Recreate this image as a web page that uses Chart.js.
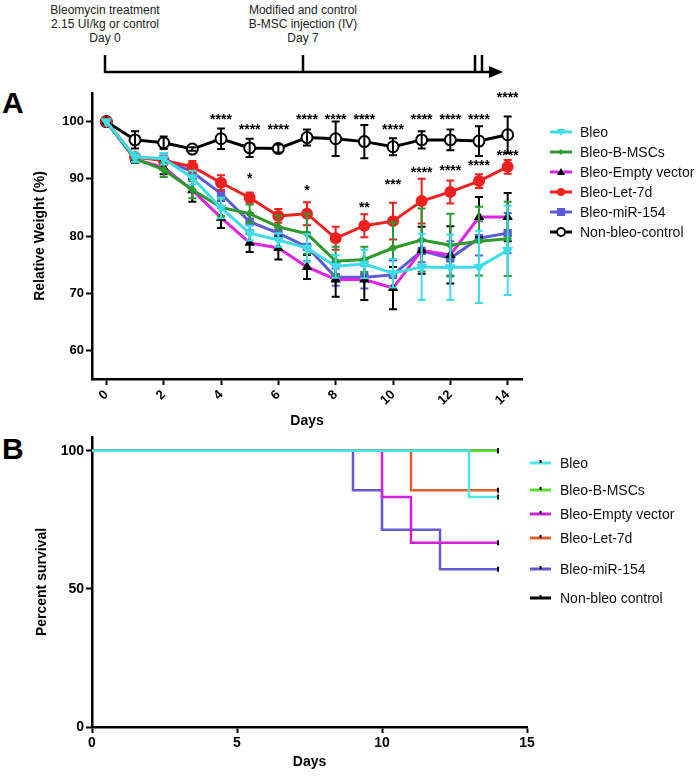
<!DOCTYPE html>
<html>
<head>
<meta charset="utf-8">
<script src="https://cdn.jsdelivr.net/npm/chart.js@4.4.1/dist/chart.umd.min.js"></script>
<style>
  body { margin: 0; background: #fff; font-family: "Liberation Sans", Arial, sans-serif; color: #000; }
  #wrap { position: relative; width: 700px; height: 776px; overflow: hidden; }
  canvas { position: absolute; left: 0; }
  .note { position: absolute; width: 200px; font-size: 12px; line-height: 14px; text-align: center; color: #222; }
  .panel { position: absolute; left: 2px; font-size: 30px; font-weight: bold; line-height: 30px; }
  .leg { position: absolute; font-size: 14px; line-height: 20px; white-space: nowrap; color: #111; }
  .leg svg { position: absolute; left: 0; top: 0; }
  .leg span { position: absolute; top: 0; }
</style>
</head>
<body>
<div id="wrap">
  <svg width="700" height="90" style="position:absolute;left:0;top:0">
    <g stroke="#000" stroke-width="2.5" fill="none">
      <line x1="105" y1="72" x2="492" y2="72"/>
      <line x1="105" y1="55" x2="105" y2="73"/>
      <line x1="303" y1="55" x2="303" y2="73"/>
      <line x1="475" y1="55" x2="475" y2="73"/>
      <line x1="482" y1="55" x2="482" y2="73"/>
    </g>
    <polygon points="489,66 503,72 489,78" fill="#000"/>
  </svg>
  <div class="note" style="left:5px;top:3px">Bleomycin treatment<br>2.15 UI/kg or control<br>Day 0</div>
  <div class="note" style="left:203px;top:3px">Modified and control<br>B-MSC injection (IV)<br>Day 7</div>
  <div class="panel" style="top:88px">A</div>
  <div class="panel" style="top:434px">B</div>
  <canvas id="chartA" width="700" height="440" style="top:0"></canvas>
  <canvas id="chartB" width="700" height="356" style="top:420px"></canvas>
  <div id="legendA"></div>
  <div id="legendB"></div>
</div>
<script>
// Panel A: relative weight (%) per day, mean and SEM
const days = [0, 1, 2, 3, 4, 5, 6, 7, 8, 9, 10, 11, 12, 13, 14];
const weightNames = ["Bleo", "Bleo-B-MSCs", "Bleo-Empty vector", "Bleo-Let-7d", "Bleo-miR-154", "Non-bleo-control"];
const bleo     = [100, 93.8, 93.5, 90.2, 84.9, 80.5, 79.3, 77.9, 74.7, 75.1, 73.5, 74.6, 74.5, 74.6, 77.5];
const bleoSem  = [0, 0.8, 1.0, 1.2, 1.8, 1.3, 1.2, 2.4, 2.0, 2.5, 2.5, 5.8, 5.7, 6.3, 7.8];
const bmsc     = [100, 93.5, 91.6, 88.1, 85.0, 83.9, 81.6, 80.4, 75.6, 75.9, 77.9, 79.3, 78.4, 79.1, 79.5];
const bmscSem  = [0, 0.6, 1.3, 1.5, 1.5, 1.6, 2.0, 3.5, 2.5, 2.2, 4.5, 5.5, 5.5, 6.0, 6.5];
const empty    = [100, 93.4, 92.0, 88.0, 83.2, 78.8, 77.9, 74.6, 72.4, 72.4, 70.9, 77.5, 76.7, 83.3, 83.3];
const emptySem = [0, 0.6, 1.2, 2.0, 1.8, 1.6, 2.0, 2.1, 3.0, 3.6, 3.7, 4.1, 5.0, 3.5, 4.2];
const let7d    = [100, 93.8, 93.2, 92.1, 89.3, 86.7, 83.5, 83.9, 79.6, 81.8, 82.6, 86.1, 87.7, 89.6, 92.1];
const let7dSem = [0, 0.6, 0.8, 1.0, 1.3, 0.9, 1.2, 2.0, 2.0, 2.0, 3.2, 3.9, 2.0, 1.2, 1.2];
const mir154   = [100, 93.7, 93.5, 91.2, 87.4, 82.5, 80.5, 78.1, 72.8, 72.8, 73.2, 77.4, 76.1, 79.6, 80.5];
const mir154Sem = [0, 0.6, 1.0, 1.2, 1.3, 1.5, 1.0, 2.5, 1.5, 2.0, 2.5, 2.0, 3.0, 3.0, 3.5];
const control  = [100, 96.8, 96.3, 95.2, 97.0, 95.4, 95.3, 97.2, 97.0, 96.5, 95.6, 96.8, 96.8, 96.6, 97.7];
const controlSem = [0, 1.5, 1.1, 0.3, 1.8, 1.6, 0.7, 1.4, 3.0, 2.9, 1.5, 1.5, 1.8, 2.6, 3.2];
const weightTicksX = [0, 2, 4, 6, 8, 10, 12, 14];
const weightTicksY = [60, 70, 80, 90, 100];

// significance marks (day, level in % units)
const starTopDays = [4, 5, 6, 7, 8, 9, 10, 11, 12, 13, 14];
const starTopY    = [100.7, 99.1, 99.1, 100.7, 100.7, 100.7, 99.1, 100.7, 100.7, 100.7, 104.6];
const starLowDays = [5, 7, 9, 10, 11, 12, 13, 14];
const starLowText = ["*", "*", "**", "***", "****", "****", "****", "****"];
const starLowY    = [90.5, 88.4, 85.4, 89.5, 91.6, 91.9, 92.8, 94.4];

// Panel B: Kaplan-Meier survival (%)
const survNames = ["Bleo", "Bleo-B-MSCs", "Bleo-Empty vector", "Bleo-Let-7d", "Bleo-miR-154", "Non-bleo control"];
const survBleoX = [0, 13, 14],        survBleoY = [100, 83.3, 83.3];
const survBmscX = [0, 14],            survBmscY = [100, 100];
const survEmptyX = [0, 10, 11, 14],   survEmptyY = [100, 83.3, 66.7, 66.7];
const survLet7dX = [0, 11, 14],       survLet7dY = [100, 85.7, 85.7];
const survMirX = [0, 9, 10, 12, 14],  survMirY = [100, 85.7, 71.4, 57.1, 57.1];
const survCtrlX = [0, 14],            survCtrlY = [100, 100];
const survTicksX = [0, 5, 10, 15];
const survTicksY = [0, 50, 100];

const FONT = '"Liberation Sans", Arial, sans-serif';
const colA = ["#3fdbe8", "#2e9a2e", "#e024e6", "#ee2020", "#5c5cd8", "#000000"];
const colB = ["#4ee6ea", "#5ce030", "#d020d8", "#e0602c", "#6658d4", "#000000"];

const pts = (xs, ys) => xs.map((x, i) => ({ x: x, y: ys[i] }));

const styleA = [
  { pointStyle: "triangle", rotation: 180, radius: 4.5, fill: colA[0], stroke: colA[0], err: colA[0] },
  { pointStyle: "rectRot", rotation: 0, radius: 3, fill: colA[1], stroke: colA[1], err: colA[1] },
  { pointStyle: "triangle", rotation: 0, radius: 4, fill: "#000", stroke: "#000", err: "#000" },
  { pointStyle: "circle", rotation: 0, radius: 5, fill: colA[3], stroke: colA[3], err: colA[3] },
  { pointStyle: "rect", rotation: 0, radius: 4.5, fill: colA[4], stroke: colA[4], err: colA[4] },
  { pointStyle: "circle", rotation: 0, radius: 5.5, fill: "#fff", stroke: "#000", err: "#000" }
];
const weightVals = [bleo, bmsc, empty, let7d, mir154, control];
const weightSems = [bleoSem, bmscSem, emptySem, let7dSem, mir154Sem, controlSem];

const errorBars = {
  id: "errorBars",
  afterDatasetDraw(chart, args) {
    const ds = chart.data.datasets[args.index];
    if (!ds.errors) return;
    const xs = chart.scales.x, ys = chart.scales.y, c = chart.ctx;
    c.save();
    c.strokeStyle = ds.errorColor;
    c.lineWidth = 2;
    ds.data.forEach((p, i) => {
      const e = ds.errors[i];
      if (!e) return;
      const px = xs.getPixelForValue(p.x);
      const t = ys.getPixelForValue(p.y + e), b = ys.getPixelForValue(p.y - e);
      c.beginPath();
      c.moveTo(px, t); c.lineTo(px, b);
      c.moveTo(px - 4, t); c.lineTo(px + 4, t);
      c.moveTo(px - 4, b); c.lineTo(px + 4, b);
      c.stroke();
    });
    c.restore();
  }
};

const stars = {
  id: "stars",
  afterDraw(chart) {
    const xs = chart.scales.x, ys = chart.scales.y, c = chart.ctx;
    c.save();
    c.font = "bold 14px " + FONT;
    c.fillStyle = "#000";
    c.textAlign = "center";
    c.textBaseline = "middle";
    starTopDays.forEach((d, i) => c.fillText("****", xs.getPixelForValue(d), ys.getPixelForValue(starTopY[i]) + 3));
    starLowDays.forEach((d, i) => c.fillText(starLowText[i], xs.getPixelForValue(d), ys.getPixelForValue(starLowY[i]) + 3));
    c.restore();
  }
};

function axis(min, max, ticks, size, font, extra) {
  return Object.assign({
    type: "linear", min: min, max: max,
    afterBuildTicks: s => { s.ticks = ticks.map(v => ({ value: v })); },
    afterFit: s => { if (s.isHorizontal()) s.height = size; else s.width = size; },
    border: { color: "#000", width: 2.5 },
    grid: { drawOnChartArea: false, tickLength: 6, tickColor: "#000", tickWidth: 2 },
    ticks: { color: "#000", font: { family: FONT, size: font, weight: "bold" }, padding: 2 }
  }, extra);
}

const xA = axis(-0.5, 14.5, weightTicksX, 61, 13, {
  title: { display: true, text: "Days", color: "#000", font: { family: FONT, size: 14, weight: "bold" }, padding: { bottom: 10 } }
});
xA.ticks.minRotation = 45;
xA.ticks.maxRotation = 45;

new Chart(document.getElementById("chartA"), {
  type: "line",
  data: {
    datasets: weightNames.map((n, i) => ({
      label: n,
      data: pts(days, weightVals[i]),
      borderColor: colA[i],
      borderWidth: 3,
      tension: 0,
      pointStyle: styleA[i].pointStyle,
      rotation: styleA[i].rotation,
      pointRadius: styleA[i].radius,
      pointBackgroundColor: styleA[i].fill,
      pointBorderColor: styleA[i].stroke,
      pointBorderWidth: 2,
      errors: weightSems[i],
      errorColor: styleA[i].err
    }))
  },
  options: {
    responsive: false,
    animation: false,
    layout: { padding: { top: 93, right: 178, left: 0, bottom: 0 } },
    plugins: { legend: { display: false }, tooltip: { enabled: false } },
    scales: {
      x: xA,
      y: axis(55, 105, weightTicksY, 92, 13, {
        title: { display: true, text: "Relative Weight (%)", color: "#000", font: { family: FONT, size: 14, weight: "bold" }, padding: { top: 32 } }
      })
    }
  },
  plugins: [errorBars, stars]
});

const survX = [survBleoX, survBmscX, survEmptyX, survLet7dX, survMirX, survCtrlX];
const survY = [survBleoY, survBmscY, survEmptyY, survLet7dY, survMirY, survCtrlY];

new Chart(document.getElementById("chartB"), {
  type: "line",
  data: {
    datasets: survNames.map((n, i) => ({
      label: n,
      data: pts(survX[i], survY[i]),
      borderColor: colB[i],
      borderWidth: 2.5,
      stepped: true,
      pointStyle: "line",
      rotation: 90,
      pointRadius: c => (c.dataIndex === survX[i].length - 1 ? 2.5 : 0),
      pointBorderColor: "#000",
      pointBorderWidth: 2
    }))
  },
  options: {
    responsive: false,
    animation: false,
    layout: { padding: { top: 17, right: 173, left: 0, bottom: 0 } },
    plugins: { legend: { display: false }, tooltip: { enabled: false } },
    scales: {
      x: axis(0, 15, survTicksX, 49, 14, {
        title: { display: true, text: "Days", color: "#000", font: { family: FONT, size: 14, weight: "bold" }, padding: { bottom: 5 } }
      }),
      y: axis(0, 105, survTicksY, 92, 14, {
        title: { display: true, text: "Percent survival", color: "#000", font: { family: FONT, size: 14, weight: "bold" }, padding: { top: 34 } }
      })
    }
  }
});

// legends
function marker(i) {
  const s = styleA[i], cx = 11, cy = 10;
  if (i === 0) return `<polygon points="${cx - 4.5},${cy - 3} ${cx + 4.5},${cy - 3} ${cx},${cy + 4}" fill="${s.fill}"/>`;
  if (i === 1) return `<polygon points="${cx},${cy - 3} ${cx + 3},${cy} ${cx},${cy + 3} ${cx - 3},${cy}" fill="${s.fill}"/>`;
  if (i === 2) return `<polygon points="${cx - 4},${cy + 3} ${cx + 4},${cy + 3} ${cx},${cy - 4}" fill="#000"/>`;
  if (i === 3) return `<circle cx="${cx}" cy="${cy}" r="4" fill="${s.fill}"/>`;
  if (i === 4) return `<rect x="${cx - 4}" y="${cy - 4}" width="8" height="8" fill="${s.fill}"/>`;
  return `<circle cx="${cx}" cy="${cy}" r="4" fill="#fff" stroke="#000" stroke-width="2"/>`;
}
const legA = document.getElementById("legendA");
const legAY = [132, 152, 172, 192, 212, 232];
weightNames.forEach((n, i) => {
  const d = document.createElement("div");
  d.className = "leg";
  d.style.left = "550px";
  d.style.top = (legAY[i] - 10) + "px";
  d.innerHTML = `<svg width="24" height="20"><line x1="0" y1="10" x2="22" y2="10" stroke="${colA[i]}" stroke-width="3"/>${marker(i)}</svg><span style="left:30px">${n}</span>`;
  legA.appendChild(d);
});
const legB = document.getElementById("legendB");
const legBY = [463, 490, 514, 538, 569, 598];
survNames.forEach((n, i) => {
  const d = document.createElement("div");
  d.className = "leg";
  d.style.left = "530px";
  d.style.top = (legBY[i] - 10) + "px";
  d.innerHTML = `<svg width="24" height="20"><line x1="0" y1="10" x2="21" y2="10" stroke="${colB[i]}" stroke-width="3"/><line x1="10.5" y1="7" x2="10.5" y2="10" stroke="#000" stroke-width="2"/></svg><span style="left:30px">${n}</span>`;
  legB.appendChild(d);
});
</script>
</body>
</html>
